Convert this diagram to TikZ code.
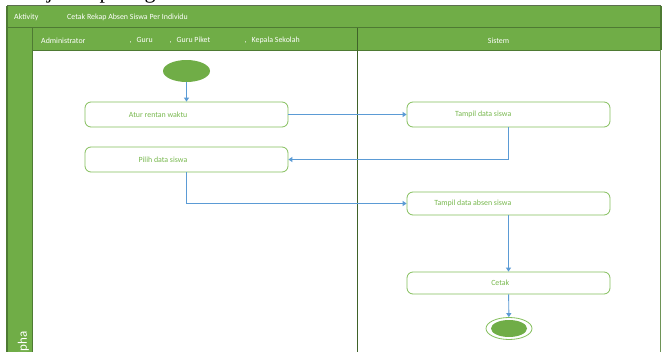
\documentclass[tikz,border=0pt]{standalone}
\usepackage{fontspec}
\setmainfont{Carlito}
\newfontfamily\serifpart{Liberation Serif}
\usetikzlibrary{arrows.meta,shapes.geometric}

\definecolor{hdrgreen}{HTML}{70AD47}
\definecolor{hdredge}{HTML}{4E7A33}
\definecolor{frametop}{HTML}{5C6E50}
\definecolor{laneline}{HTML}{3F6229}
\definecolor{bodyedge}{HTML}{6E9457}
\definecolor{boxedge}{HTML}{84BF5C}
\definecolor{boxtext}{HTML}{78B84E}
\definecolor{flowblue}{HTML}{5B9BD5}

\tikzset{
  actbox/.style={draw=boxedge, line width=0.8pt, rounded corners=6pt, fill=white,
                 minimum width=203pt, inner sep=0pt},
  acttext/.style={text=boxtext, font=\fontsize{7.9}{9}\selectfont, anchor=east,
                  inner sep=0pt, xshift=1pt},
  hdrtext/.style={text=white, font=\fontsize{7.9}{9}\selectfont, anchor=west, inner sep=0pt},
  flow/.style={draw=flowblue, line width=0.9pt, -{Triangle[length=4pt,width=5pt]}},
}

\begin{document}
\begin{tikzpicture}[x=1pt,y=-1pt]
\useasboundingbox (0,0) rectangle (667,351);
\fill[white] (0,0) rectangle (667,351);

% tail of the preceding text line
\node[font=\serifpart\fontsize{22}{24}\selectfont, anchor=base, inner sep=0pt] (tj) at (50,-2) {j};
\node[font=\serifpart\fontsize{22}{24}\selectfont, anchor=base, inner sep=0pt] (tp) at (105,-2) {p};
\node[font=\serifpart\fontsize{22}{24}\selectfont, anchor=base, inner sep=0pt] (tg) at (150,-2) {g};

% swimlane frame
\fill[hdrgreen] (7,5.5) rectangle (661,50);
\fill[hdrgreen] (7,50) rectangle (32,360);
\draw[frametop, line width=1.2pt] (7,5.5) -- (661,5.5);
\draw[hdredge, line width=1.2pt] (7,360) -- (7,5.5);
\draw[hdredge, line width=1.2pt] (661,5.5) -- (661,50);
\draw[hdredge, line width=1pt] (7,27.5) -- (661,27.5);
\draw[hdredge, line width=1pt] (32,50) -- (661,50);
\draw[hdredge, line width=1pt] (32,27.5) -- (32,360);
\draw[laneline, line width=1.1pt] (357.5,27.5) -- (357.5,360);
\draw[bodyedge, line width=1pt] (660,50) -- (660,360);

% header texts
\node[hdrtext] (hact) at (14,17) {Aktivity};
\node[hdrtext] (htitle) at (67,17) {Cetak Rekap Absen Siswa Per Individu};
\node[hdrtext] (hadm) at (41,40.5) {Administrator};
\node[hdrtext] (hguru) at (129.5,40.5) {,\hspace{5pt}Guru};
\node[hdrtext] (hpiket) at (169.5,40.5) {,\hspace{5pt}Guru Piket};
\node[hdrtext] (hkepsek) at (244.5,40.5) {,\hspace{5pt}Kepala Sekolah};
\node[hdrtext, anchor=center] (hsis) at (498.5,40.5) {Sistem};
\node[text=white, font=\fontsize{13}{14}\selectfont, rotate=90, anchor=east, inner sep=0pt] (hphase) at (23.5,331) {Alpha};

% start and end
\node[ellipse, fill=hdrgreen, minimum width=47pt, minimum height=22pt, inner sep=0pt] (start) at (186.5,71) {};
\node[ellipse, draw=boxedge, line width=0.8pt, fill=white, minimum width=46pt, minimum height=22pt, inner sep=0pt] (endring) at (509,328.5) {};
\node[ellipse, fill=hdrgreen, minimum width=36pt, minimum height=17pt, inner sep=0pt] (enddot) at (509,328.5) {};

% actions
\node[actbox, minimum height=25pt] (atur) at (186.5,114.5) {};
\node[acttext] (aturT) at (atur.center) {Atur rentan waktu};
\node[actbox, minimum height=25pt] (pilih) at (186.5,159.5) {};
\node[acttext] (pilihT) at (pilih.center) {Pilih data siswa};
\node[actbox, minimum height=25pt] (tampil) at (508.5,114.5) {};
\node[acttext, xshift=2pt] (tampilT) at (tampil.center) {Tampil data siswa};
\node[actbox, minimum height=23pt] (absen) at (508.5,203.5) {};
\node[acttext, xshift=2pt] (absenT) at (absen.center) {Tampil data absen siswa};
\node[actbox, minimum height=22pt] (cetak) at (508.5,283) {};
\node[acttext] (cetakT) at (cetak.center) {Cetak};

% control flow
\draw[flow] (start) -- (atur);
\draw[flow] (atur) -- (tampil);
\draw[flow] (tampil.south) |- (pilih.east);
\draw[flow] (pilih.south) |- (absen.west);
\draw[flow] (absen) -- (cetak);
\draw[flow] (cetak) -- (endring);
\end{tikzpicture}
\end{document}
